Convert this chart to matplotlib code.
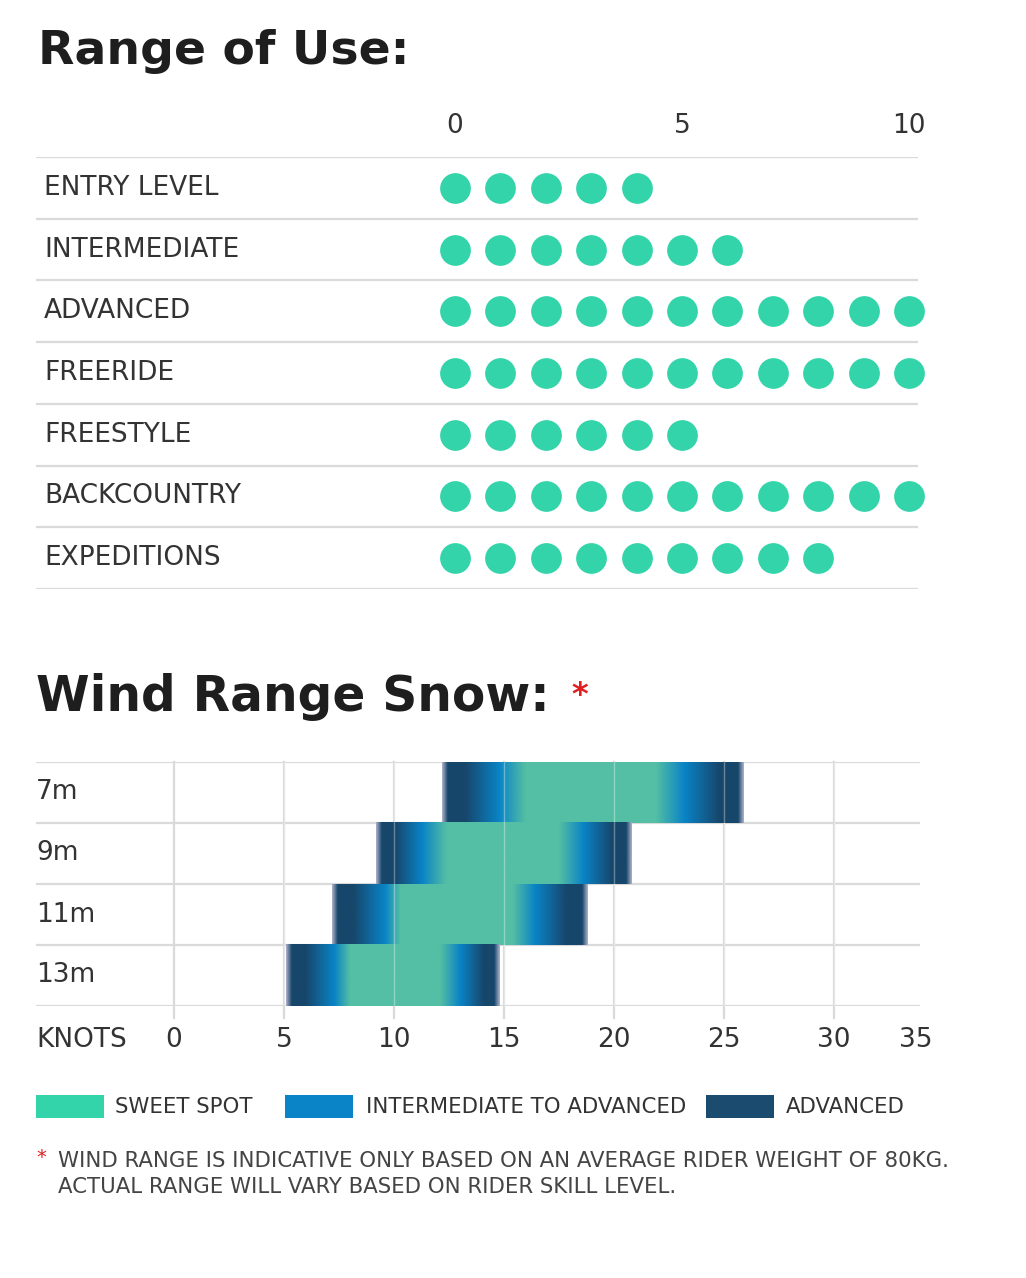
import numpy as np
import matplotlib.pyplot as plt
from matplotlib.patches import Rectangle
from matplotlib.colors import to_rgb

plt.rcParams['font.family'] = ['DejaVu Sans']

W, H = 1026, 1278

# --- Range of Use data (number of dots per level) ---
levels = ['ENTRY LEVEL', 'INTERMEDIATE', 'ADVANCED', 'FREERIDE',
          'FREESTYLE', 'BACKCOUNTRY', 'EXPEDITIONS']
dots = [5, 7, 11, 11, 6, 11, 9]
use_ticks = [0, 5, 10]

# --- Wind range data (knots) ---
sizes = ['7m', '9m', '11m', '13m']
wind_start = [12.2, 9.2, 7.2, 5.1]
blue_lo = [14.8, 11.3, 9.6, 7.3]
sweet_lo = [16.0, 12.4, 10.3, 8.0]
sweet_hi = [21.9, 17.5, 15.4, 12.1]
blue_hi = [23.2, 18.6, 16.4, 13.0]
wind_end = [25.9, 20.8, 18.8, 14.8]
knot_ticks = [0, 5, 10, 15, 20, 25, 30, 35]

TEAL_DOT = '#33d4a9'
TEAL_BAR = '#54bfa4'
BLUE = '#0a84c6'
NAVY = '#17466b'
FADE = '#aab0c8'
TXT = '#333333'
GRID = '#dadada'
LBL = 19


def fx(px):
    return px / W


def fy(py):
    return 1 - py / H


fig = plt.figure(figsize=(W / 100, H / 100), dpi=100)

# ---------------- Range of Use ----------------
fig.text(fx(38), fy(52), 'Range of Use:', fontsize=34, fontweight='bold',
         color='#1e1e1e', va='center', ha='left')

ax1 = fig.add_axes([fx(36), fy(589), fx(918) - fx(36), fy(157) - fy(589)])
sp = 45.4
ax1.set_xlim((36 - 455) / sp, (918 - 455) / sp)
ax1.set_ylim(len(levels), 0)
for s in ax1.spines.values():
    s.set_visible(False)
for i in range(len(levels) + 1):
    ax1.axhline(i, color=GRID, lw=1.6)
for i, (lab, n) in enumerate(zip(levels, dots)):
    ax1.scatter(np.arange(n), np.full(n, i + 0.5), s=490, color=TEAL_DOT,
                clip_on=False, zorder=3, linewidths=0)
    ax1.text(0.009, i + 0.5, lab, transform=ax1.get_yaxis_transform(),
             fontsize=LBL, color=TXT, va='center', ha='left')
ax1.xaxis.tick_top()
ax1.set_xticks(use_ticks)
ax1.set_xticklabels([str(t) for t in use_ticks], fontsize=LBL, color=TXT)
ax1.tick_params(axis='x', length=0, pad=13)
ax1.set_yticks([])

# ---------------- Wind Range Snow ----------------
fig.text(fx(36), fy(697), 'Wind Range Snow:', fontsize=35, fontweight='bold',
         color='#1e1e1e', va='center', ha='left')
fig.text(fx(571), fy(695), '*', fontsize=23, fontweight='bold',
         color='#e02020', va='center', ha='left')

ax2 = fig.add_axes([fx(36), fy(1006), fx(920) - fx(36), fy(762) - fy(1006)])
kp = 22.0
ax2.set_xlim((36 - 174) / kp, (920 - 174) / kp)
ax2.set_ylim(len(sizes), 0)
for s in ax2.spines.values():
    s.set_visible(False)
for i in range(len(sizes) + 1):
    ax2.axhline(i, color=GRID, lw=1.6, zorder=1)
for k in knot_ticks[:-1]:
    ax2.plot([k, k], [0, 4.2], color=GRID, lw=1.6, zorder=1, clip_on=False)

for i, lab in enumerate(sizes):
    a, bl, sl, sh, bh, e = (wind_start[i], blue_lo[i], sweet_lo[i],
                            sweet_hi[i], blue_hi[i], wind_end[i])
    pos = [a, a + 0.25, a + 0.4 * (bl - a), bl, sl, sh, bh,
           e - 0.4 * (e - bh), e - 0.25, e]
    cols = [FADE, NAVY, NAVY, BLUE, TEAL_BAR, TEAL_BAR, BLUE, NAVY, NAVY, FADE]
    rgb = np.array([to_rgb(c) for c in cols])
    xs = np.linspace(a, e, 400)
    img = np.stack([np.interp(xs, pos, rgb[:, c]) for c in range(3)], axis=-1)
    ax2.imshow(img[np.newaxis, :, :], extent=(a, e, i + 1, i), aspect='auto',
               interpolation='bilinear', zorder=2)
    ax2.text(0.0, i + 0.5, lab, transform=ax2.get_yaxis_transform(),
             fontsize=LBL, color=TXT, va='center', ha='left')
# gridlines show faintly through the bars
for k in knot_ticks[1:-1]:
    ax2.plot([k, k], [0, 4], color='white', lw=1.0, alpha=0.35, zorder=3)

ax2.set_xlim((36 - 174) / kp, (920 - 174) / kp)
ax2.set_ylim(len(sizes), 0)
ax2.set_yticks([])
ax2.set_xticks([])
for k in knot_ticks:
    xk = k if k < 35 else 33.7
    ax2.text(xk, 4.55, str(k), fontsize=LBL, color=TXT, ha='center',
             va='center', clip_on=False)
ax2.text(0.0, 4.55, 'KNOTS', transform=ax2.get_yaxis_transform(),
         fontsize=LBL, color=TXT, ha='left', va='center')

# legend
legend_items = [('SWEET SPOT', TEAL_DOT, 36, 115),
                ('INTERMEDIATE TO ADVANCED', BLUE, 285, 366),
                ('ADVANCED', '#1b4b6e', 706, 786)]
for lab, col, x0, xt in legend_items:
    fig.add_artist(Rectangle((fx(x0), fy(1118)), fx(68), fy(1095) - fy(1118),
                             transform=fig.transFigure, color=col, lw=0))
    fig.text(fx(xt), fy(1107), lab, fontsize=15.3, color=TXT, ha='left',
             va='center')

# footnote
fig.text(fx(36), fy(1158), '*', fontsize=14, color='#e02020', ha='left',
         va='center')
fig.text(fx(58), fy(1161), 'WIND RANGE IS INDICATIVE ONLY BASED ON AN AVERAGE RIDER WEIGHT OF 80KG.',
         fontsize=15.3, color='#444444', ha='left', va='center')
fig.text(fx(58), fy(1187), 'ACTUAL RANGE WILL VARY BASED ON RIDER SKILL LEVEL.',
         fontsize=15.3, color='#444444', ha='left', va='center')

fig.savefig('out.png', dpi=100, facecolor='white')
